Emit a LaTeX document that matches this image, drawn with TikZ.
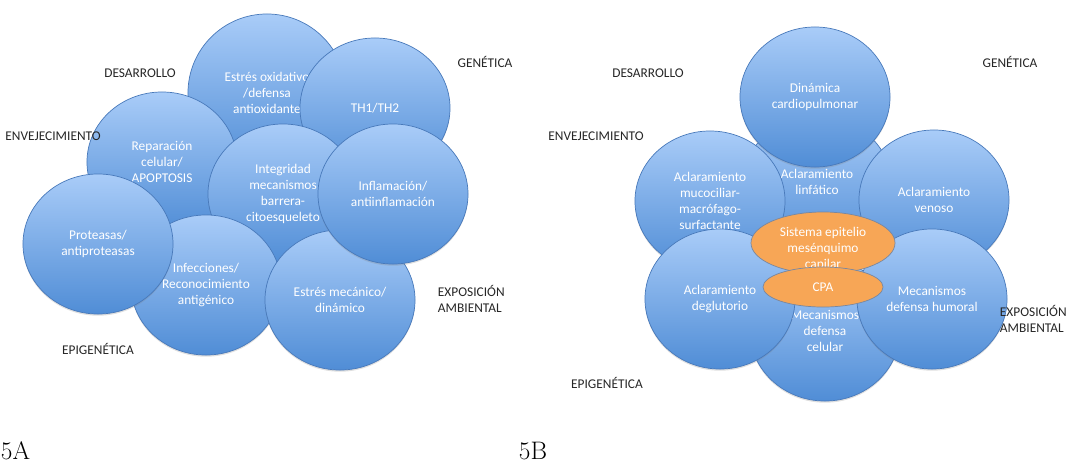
\documentclass[tikz,border=0pt]{standalone}
\usepackage{fontspec}
\setsansfont{Carlito}
\usetikzlibrary{shapes.geometric,shadows}

\definecolor{bubbletop}{RGB}{169,204,248}
\definecolor{bubblebottom}{RGB}{80,141,214}
\definecolor{bubbleline}{RGB}{72,121,186}
\definecolor{coreorange}{RGB}{247,166,86}
\definecolor{coreline}{RGB}{120,135,160}
\definecolor{factorgray}{RGB}{38,38,38}

\begin{document}
\begin{tikzpicture}[x=0.025cm, y=-0.025cm,
    bubble/.style={ellipse, draw=bubbleline, line width=0.5pt,
      top color=bubbletop, bottom color=bubblebottom,
      minimum width=3.75cm, minimum height=3.5cm, inner sep=0pt,
      drop shadow={shadow xshift=0pt, shadow yshift=-1.2pt, opacity=0.25}},
    big/.style={minimum width=3.95cm, minimum height=3.95cm},
    core/.style={ellipse, draw=coreline, line width=0.5pt, fill=coreorange, inner sep=0pt},
    bubbletext/.style={text=white, font=\sffamily\fontsize{9.5}{11.4}\selectfont, align=center},
    factor/.style={text=factorgray, font=\sffamily\fontsize{9.5}{11.4}\selectfont, align=left},
    panel/.style={font=\fontsize{18}{20}\selectfont, anchor=base west}]

    \useasboundingbox (0,0) rectangle (1066,463);

    % 5A
    \node[bubble, big, label={[bubbletext]center:{Estrés oxidativo\\/defensa\\antioxidante}}] (oxid) at (267,93) {};
    \node[bubble, label={[bubbletext]center:{TH1/TH2}}] (th) at (375,108) {};
    \node[bubble, label={[bubbletext]center:{Reparación\\celular/\\APOPTOSIS}}] (repar) at (162,162) {};
    \node[bubble, label={[bubbletext]center:{Integridad\\mecanismos\\barrera-\\citoesqueleto}}] (integ) at (283,194) {};
    \node[bubble, label={[bubbletext]center:{Infecciones/\\Reconocimiento\\antigénico}}] (infec) at (206,285) {};
    \node[bubble, label={[bubbletext]center:{Proteasas/\\antiproteasas}}] (prote) at (98,244) {};
    \node[bubble, label={[bubbletext]center:{Estrés mecánico/\\dinámico}}] (mecan) at (340,300) {};
    \node[bubble, label={[bubbletext]center:{Inflamación/\\antiinflamación}}] (infla) at (393,194) {};

    \node[factor] (desarrolloA) at (140,73) {DESARROLLO};
    \node[factor] (geneticaA) at (485,62) {GENÉTICA};
    \node[factor] (envejA) at (53,136) {ENVEJECIMIENTO};
    \node[factor] (epigenA) at (98,349) {EPIGENÉTICA};
    \node[factor, anchor=west] (exposA) at (433,299) {EXPOSICIÓN\\AMBIENTAL};

    % 5B
    \node[bubble, label={[bubbletext, yshift=3pt]center:{Aclaramiento\\linfático}}] (linfa) at (817,186) {};
    \node[bubble, label={[bubbletext]center:{Dinámica\\cardiopulmonar}}] (cardio) at (815,97) {};
    \node[bubble, label={[bubbletext]center:{Aclaramiento\\mucociliar-\\macrófago-\\surfactante}}] (mucoc) at (710,201) {};
    \node[bubble, label={[bubbletext]center:{Aclaramiento\\venoso}}] (venoso) at (934,200) {};
    \node[bubble, label={[bubbletext]center:{Mecanismos\\defensa\\celular}}] (celular) at (825,331) {};
    \node[bubble, label={[bubbletext]center:{Aclaramiento\\deglutorio}}] (deglu) at (720,299) {};
    \node[bubble, label={[bubbletext]center:{Mecanismos\\defensa humoral}}] (humoral) at (932,299) {};
    \node[core, minimum width=3.6cm, minimum height=1.55cm,
      label={[bubbletext, yshift=-4pt]center:{Sistema epitelio\\mesénquimo\\capilar}}] (sistema) at (823,243) {};
    \node[core, minimum width=3cm, minimum height=1cm,
      label={[bubbletext]center:{CPA}}] (cpa) at (823,287) {};

    \node[factor] (desarrolloB) at (648,73) {DESARROLLO};
    \node[factor] (geneticaB) at (1010,62) {GENÉTICA};
    \node[factor] (envejB) at (596,136) {ENVEJECIMIENTO};
    \node[factor] (epigenB) at (607,383) {EPIGENÉTICA};
    \node[factor, anchor=west] (exposB) at (995,319) {EXPOSICIÓN\\AMBIENTAL};

    \node[panel] (panelA) at (-4,459) {5A};
    \node[panel] (panelB) at (514,459) {5B};
\end{tikzpicture}
\end{document}
